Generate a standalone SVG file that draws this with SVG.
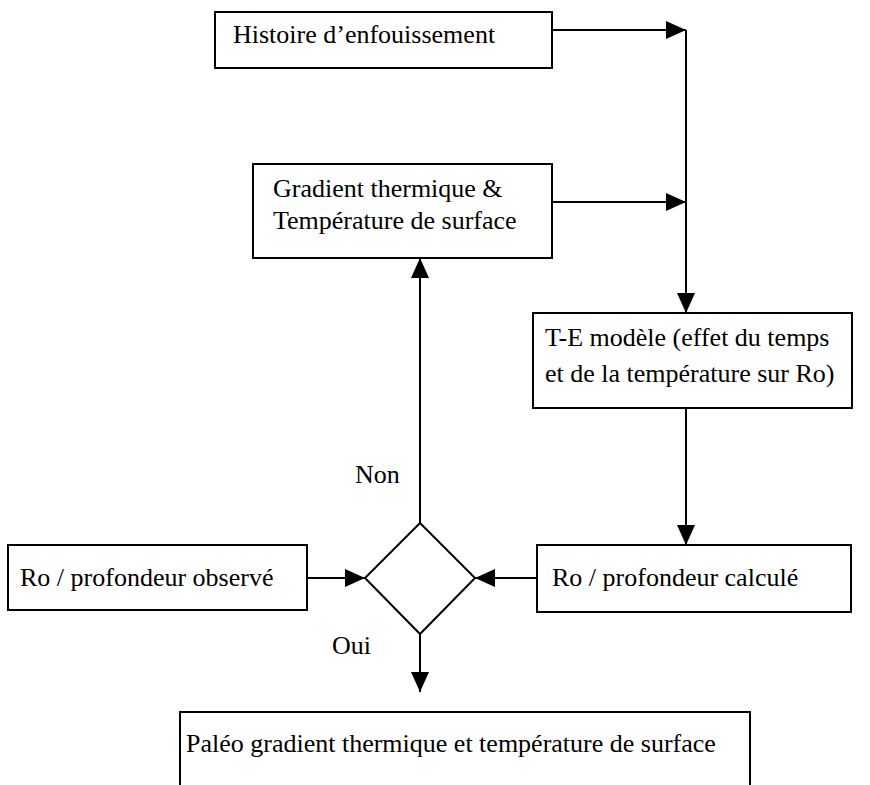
<svg xmlns="http://www.w3.org/2000/svg" width="870" height="785" viewBox="0 0 870 785">
<defs>
<style>
.box{fill:#fff;stroke:#000;stroke-width:2}
.ln{fill:none;stroke:#000;stroke-width:2}
text{font-family:'Liberation Serif','Times New Roman','DejaVu Serif',serif;font-size:26px;fill:#000}
</style>
<marker id="ah" markerWidth="20" markerHeight="20" viewBox="0 0 20 20" refX="20" refY="10" orient="auto" markerUnits="userSpaceOnUse">
<path d="M0,1 L20,10 L0,19 Z" fill="#000"/>
</marker>
</defs>
<rect width="870" height="785" fill="#fff"/>
<g id="connectors">
<line class="ln" x1="552" y1="30" x2="686" y2="30" marker-end="url(#ah)"/>
<line class="ln" x1="552" y1="202" x2="686" y2="202" marker-end="url(#ah)"/>
<line class="ln" x1="686" y1="30" x2="686" y2="313" marker-end="url(#ah)"/>
<line class="ln" x1="686" y1="408" x2="686" y2="545" marker-end="url(#ah)"/>
<line class="ln" x1="420" y1="523" x2="420" y2="258" marker-end="url(#ah)"/>
<line class="ln" x1="307" y1="578" x2="365" y2="578" marker-end="url(#ah)"/>
<line class="ln" x1="537" y1="578" x2="475" y2="578" marker-end="url(#ah)"/>
<line class="ln" x1="420" y1="634" x2="420" y2="692" marker-end="url(#ah)"/>
<text x="355" y="483">Non</text>
<text x="332" y="654">Oui</text>
</g>
<g id="histoire">
<rect class="box" x="215" y="12" width="337" height="56"/>
<text x="233" y="43">Histoire d’enfouissement</text>
</g>
<g id="gradient">
<rect class="box" x="253" y="164" width="299" height="94"/>
<text x="273" y="197">Gradient thermique &amp;</text>
<text x="273" y="229">Température de surface</text>
</g>
<g id="modele">
<rect class="box" x="533" y="313" width="319" height="95"/>
<text x="545" y="346">T-E modèle (effet du temps</text>
<text x="545" y="382">et de la température sur Ro)</text>
</g>
<g id="observe">
<rect class="box" x="8" y="545" width="299" height="65"/>
<text x="20" y="586">Ro / profondeur observé</text>
</g>
<g id="decision">
<polygon class="ln" points="420,523 475,578 420,634 365,578"/>
</g>
<g id="calcule">
<rect class="box" x="537" y="545" width="314" height="67"/>
<text x="552" y="586">Ro / profondeur calculé</text>
</g>
<g id="paleo">
<path class="ln" d="M180,790 V712 H750 V790"/>
<text x="186" y="752">Paléo gradient thermique et température de surface</text>
</g>
</svg>
